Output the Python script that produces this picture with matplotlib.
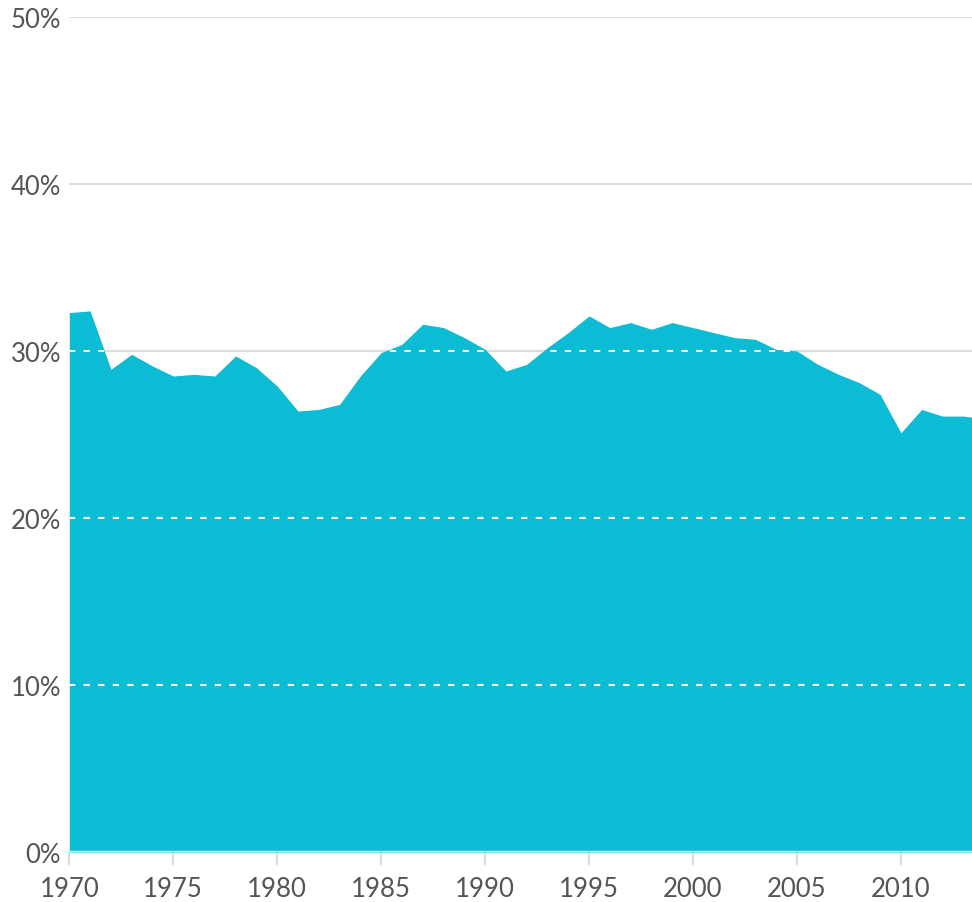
import numpy as np
import matplotlib
matplotlib.use('Agg')
import matplotlib.pyplot as plt

plt.rcParams['font.family'] = ['Lato', 'DejaVu Sans']

years = list(range(1970, 2015))
share = [32.3, 32.4, 28.9, 29.8, 29.1, 28.5, 28.6, 28.5, 29.7, 29.0,
         27.9, 26.4, 26.5, 26.8, 28.5, 29.9, 30.4, 31.6, 31.4, 30.8,
         30.1, 28.8, 29.2, 30.2, 31.1, 32.1, 31.4, 31.7, 31.3, 31.7,
         31.4, 31.1, 30.8, 30.7, 30.1, 30.0, 29.2, 28.6, 28.1, 27.4,
         25.1, 26.5, 26.1, 26.1, 25.95]

y_ticks = [0, 10, 20, 30, 40, 50]
x_ticks = [1970, 1975, 1980, 1985, 1990, 1995, 2000, 2005, 2010]

fill_color = '#0bbcd4'
grid_color = '#dcdcdc'
text_color = '#555555'

fig = plt.figure(figsize=(9.72, 9.03), dpi=100)
ax = fig.add_axes([0.0713, 0.0554, 0.9287, 0.9247])

# grey gridlines behind, white dashed copies on top, clipped to the area
for v in y_ticks[1:]:
    ax.axhline(v, color=grid_color, lw=1.5, zorder=1)
area = ax.fill_between(years, share, 0, color=fill_color, lw=0, zorder=2)
area_path = area.get_paths()[0]
for v in y_ticks[1:]:
    ln = ax.axhline(v, color='white', lw=1.5, ls=(0, (3, 4)), zorder=3)
    ln.set_clip_path(area_path, ax.transData)
ax.axhline(0, color=grid_color, lw=2.5, zorder=4)

ax.set_xlim(1970, 2013.42)
ax.set_ylim(0, 50)
ax.set_yticks(y_ticks)
ax.set_yticklabels([f'{v}%' for v in y_ticks])
ax.set_xticks(x_ticks)
ax.set_xticklabels([str(v) for v in x_ticks])

for s in ax.spines.values():
    s.set_visible(False)
ax.tick_params(axis='y', length=0, pad=6, labelsize=18.5, labelcolor=text_color)
ax.tick_params(axis='x', length=9, width=1.5, color=grid_color, pad=8,
               labelsize=18.5, labelcolor=text_color)

fig.savefig('out.png', dpi=100)
